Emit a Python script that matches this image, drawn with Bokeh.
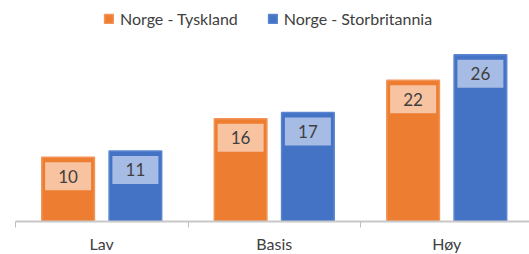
from bokeh.plotting import figure
from bokeh.models import ColumnDataSource, Range1d, FixedTicker, Legend, LegendItem
from bokeh.core.properties import value
from bokeh.embed import file_html
from bokeh.resources import INLINE

categories = ["Lav", "Basis", "Høy"]
series_names = ["Norge - Tyskland", "Norge - Storbritannia"]
tyskland = [10, 16, 22]
storbritannia = [11, 17, 26]

colors = ["#ED7D31", "#4472C4"]
edge_colors = ["#F29458", "#5A85D0"]
box_colors = ["#F7C3A0", "#A6BCE4"]

FRAME_H = 213
FRAME_W = 514
CAT_PX = 172.5
Y_END = 33.2
ppu = FRAME_H / Y_END
label_drop = 19 / ppu

FONT = "Lato"

p = figure(width=529, height=254, output_backend="svg", toolbar_location=None,
           x_range=Range1d(0, FRAME_W / CAT_PX), y_range=Range1d(0, Y_END),
           min_border_left=15, min_border_right=0, min_border_top=8, min_border_bottom=33)
p.frame_height = FRAME_H
p.frame_width = FRAME_W
p.outline_line_color = None
p.xgrid.visible = False
p.ygrid.visible = False
p.yaxis.visible = False
p.background_fill_color = "white"
p.border_fill_color = "white"

offsets = [-0.195, 0.195]
renderers = []
for s, vals in enumerate([tyskland, storbritannia]):
    xs = [i + 0.5 + offsets[s] for i in range(len(categories))]
    src = ColumnDataSource(dict(x=xs, top=vals,
                                ly=[v - label_drop for v in vals],
                                txt=[str(v) for v in vals]))
    r = p.vbar(x="x", top="top", bottom=0, width=0.305, source=src,
               fill_color=colors[s], line_color=edge_colors[s], line_width=1.5)
    renderers.append(r)
    p.rect(x="x", y="ly", width=46, height=28, width_units="screen", height_units="screen",
           source=src, fill_color=box_colors[s], line_color=None)
    p.text(x="x", y="ly", text="txt", source=src, text_align="center", text_baseline="middle",
           text_font=value(FONT), text_font_size="17px", text_color="#404040")

ax = p.xaxis[0]
ax.ticker = FixedTicker(ticks=[0.5, 1.5, 2.5], minor_ticks=[0, 1, 2, 3])
ax.major_label_overrides = {0.5: categories[0], 1.5: categories[1], 2.5: categories[2]}
ax.major_tick_line_color = None
ax.minor_tick_out = 6
ax.minor_tick_in = 0
ax.minor_tick_line_color = "#BFBFBF"
ax.minor_tick_line_width = 1
ax.axis_line_color = "#C8C8C8"
ax.axis_line_width = 2
ax.major_label_text_font = FONT
ax.major_label_text_font_size = "16px"
ax.major_label_text_color = "#404040"
ax.major_label_standoff = 6

legend = Legend(items=[LegendItem(label=series_names[i], renderers=[renderers[i]]) for i in range(2)],
                orientation="horizontal", location=(88, 193))
legend.glyph_width = 11
legend.glyph_height = 11
legend.label_standoff = 6
legend.spacing = 29
legend.padding = 0
legend.margin = 0
legend.label_height = 16
legend.label_text_font = FONT
legend.label_text_font_size = "16px"
legend.label_text_color = "#404040"
legend.border_line_color = None
legend.background_fill_alpha = 0
p.add_layout(legend, "center")

open("out.html", "w").write(file_html(p, INLINE))
